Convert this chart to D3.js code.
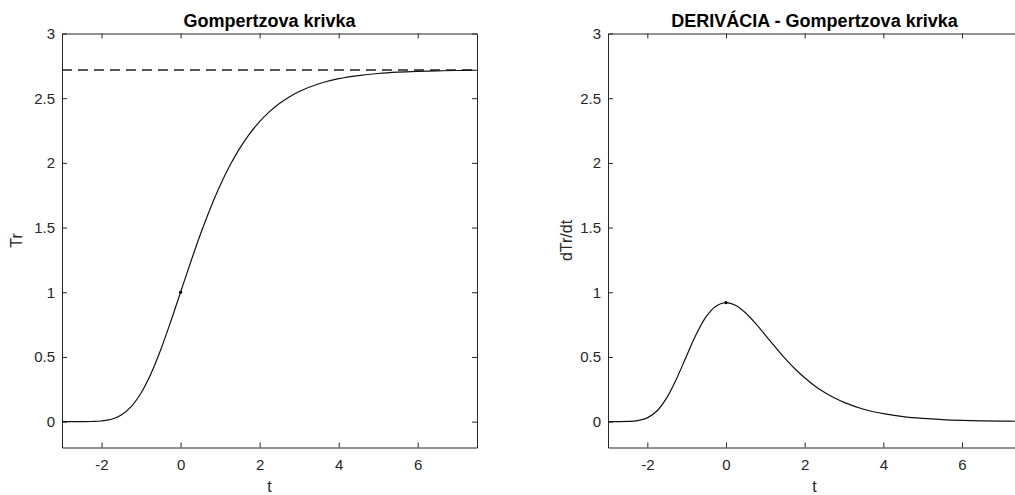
<!DOCTYPE html>
<html><head><meta charset="utf-8">
<script src="https://cdn.jsdelivr.net/npm/d3@7/dist/d3.min.js"></script>
<style>
html,body{margin:0;padding:0;background:#fff;overflow:hidden;}
text{font-family:"Liberation Sans",Arial,Helvetica,sans-serif;}
</style></head>
<body><svg id="c" width="1015" height="495"></svg>
<script>
// Data
const tValues = [-3,-2.75,-2.5,-2.25,-2,-1.75,-1.5,-1.25,-1,-0.75,-0.5,-0.25,0,0.25,0.5,0.75,1,1.25,1.5,1.75,2,2.25,2.5,2.75,3,3.5,4,4.5,5,5.5,6,6.5,7,7.5];
const trValues = [0,0,0.0001,0.001,0.005,0.018,0.051,0.116,0.221,0.370,0.558,0.772,1,1.228,1.446,1.646,1.825,1.981,2.114,2.226,2.319,2.396,2.459,2.510,2.552,2.612,2.651,2.675,2.691,2.701,2.707,2.711,2.714,2.716];
const dTrValues = [0,0.0001,0.0012,0.0072,0.029,0.084,0.187,0.336,0.510,0.679,0.813,0.894,0.92,0.898,0.840,0.760,0.669,0.577,0.489,0.409,0.339,0.278,0.227,0.184,0.149,0.096,0.062,0.039,0.025,0.016,0.010,0.006,0.004,0.0025];
const asymptote = 2.718;
const xTicks = [-2,0,2,4,6];
const yTicks = [0,0.5,1,1.5,2,2.5,3];
const xDomain = [-3,7.5];
const yDomain = [-0.2,3];
const titles = ["Gompertzova krivka","DERIVÁCIA - Gompertzova krivka"];
const yLabels = ["Tr","dTr/dt"];
const xLabel = "t";

const svg = d3.select("#c");
const axCol = "#262626";
const panels = [
  {x0:62, x1:477, y0:33.5, y1:447.5, series:trValues, dashed:true, marker:[0,1], title:titles[0], ylab:yLabels[0], ylabX:22},
  {x0:608, x1:1021, y0:33.5, y1:447.5, series:dTrValues, dashed:false, marker:[0,0.92], title:titles[1], ylab:yLabels[1], ylabX:572}
];

panels.forEach(p=>{
  const x = d3.scaleLinear().domain(xDomain).range([p.x0,p.x1]);
  const y = d3.scaleLinear().domain(yDomain).range([p.y1,p.y0]);
  const g = svg.append("g");
  const clipId = "clip"+p.x0;
  g.append("clipPath").attr("id",clipId).append("rect")
    .attr("x",p.x0).attr("y",p.y0).attr("width",p.x1-p.x0).attr("height",p.y1-p.y0);
  const plot = g.append("g").attr("clip-path",`url(#${clipId})`);
  if(p.dashed){
    plot.append("line").attr("x1",x(xDomain[0])).attr("x2",x(xDomain[1]))
      .attr("y1",y(asymptote)).attr("y2",y(asymptote))
      .attr("stroke","#222").attr("stroke-width",1.3).attr("stroke-dasharray","10,6");
  }
  const line = d3.line().x((d,i)=>x(tValues[i])).y(d=>y(d)).curve(d3.curveCatmullRom);
  plot.append("path").datum(p.series).attr("d",line)
    .attr("fill","none").attr("stroke","#111").attr("stroke-width",1.2);
  plot.append("circle").attr("cx",x(p.marker[0])).attr("cy",y(p.marker[1])).attr("r",1.6).attr("fill","#000");

  // axes (MATLAB box with inward ticks)
  const tl = 5;
  const axB = d3.axisBottom(x).tickValues(xTicks).tickSizeInner(-tl).tickSizeOuter(0).tickPadding(12).tickFormat(d=>String(d));
  const axT = d3.axisTop(x).tickValues(xTicks).tickSizeInner(-tl).tickSizeOuter(0).tickFormat("");
  const axL = d3.axisLeft(y).tickValues(yTicks).tickSizeInner(-tl).tickSizeOuter(0).tickPadding(7).tickFormat(d=>String(d));
  const axR = d3.axisRight(y).tickValues(yTicks).tickSizeInner(-tl).tickSizeOuter(0).tickFormat("");
  const style = sel=>{
    sel.selectAll("path,line").attr("stroke",axCol).attr("stroke-width",1);
    sel.selectAll("text").attr("fill",axCol).style("font-size","15px").style("font-family","'Liberation Sans',Arial,sans-serif");
  };
  g.append("g").attr("transform",`translate(0,${p.y1})`).call(axB).call(style);
  g.append("g").attr("transform",`translate(0,${p.y0})`).call(axT).call(style);
  g.append("g").attr("transform",`translate(${p.x0},0)`).call(axL).call(style);
  g.append("g").attr("transform",`translate(${p.x1},0)`).call(axR).call(style);

  g.append("text").attr("x",(p.x0+p.x1)/2).attr("y",26.5).attr("text-anchor","middle")
    .style("font-size","18px").style("font-weight","bold").attr("fill","#000").text(p.title);
  g.append("text").attr("x",(p.x0+p.x1)/2).attr("y",492).attr("text-anchor","middle")
    .style("font-size","16px").attr("fill",axCol).text(xLabel);
  g.append("text").attr("transform",`translate(${p.ylabX},${(p.y0+p.y1)/2}) rotate(-90)`).attr("text-anchor","middle")
    .style("font-size","16px").attr("fill",axCol).text(p.ylab);
});
</script></body></html>
